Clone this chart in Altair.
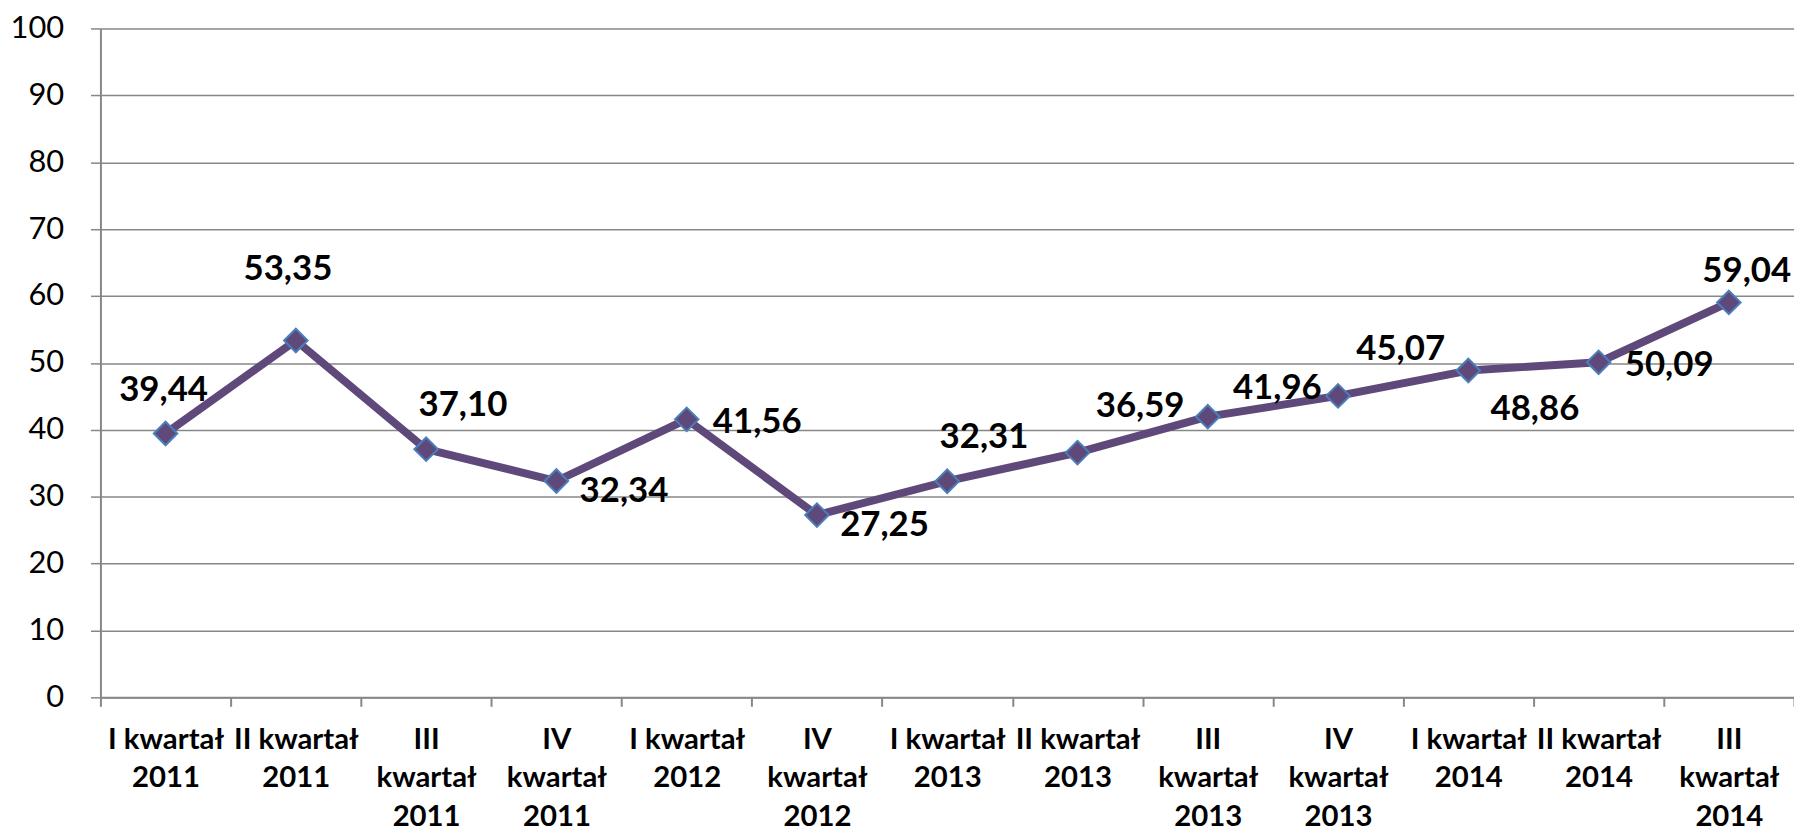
import altair as alt
import pandas as pd

categories = [
    "I kwartał 2011", "II kwartał 2011", "III kwartał 2011", "IV kwartał 2011",
    "I kwartał 2012", "IV kwartał 2012", "I kwartał 2013", "II kwartał 2013",
    "III kwartał 2013", "IV kwartał 2013", "I kwartał 2014", "II kwartał 2014",
    "III kwartał 2014",
]
values = [39.44, 53.35, 37.10, 32.34, 41.56, 27.25, 32.31, 36.59, 41.96, 45.07, 48.86, 50.09, 59.04]
# where each value label sits relative to its point
placement = ["top", "top_high", "top_right", "right_low", "right", "right_low", "top_right",
             "top_right_far", "right_up", "top_right_far", "below_right", "right", "top_near"]
y_ticks = list(range(0, 101, 10))

offsets = {
    "top": (-2, -44),
    "top_high": (-8, -72),
    "top_right": (37, -44),
    "top_right_far": (63, -47),
    "right_up": (70, -29),
    "right_low": (68, 10),
    "right": (71, 3),
    "below_right": (67, 39),
    "top_near": (18, -32),
}

df = pd.DataFrame({
    "kw": categories,
    "v": values,
    "lab": [f"{v:.2f}".replace(".", ",") for v in values],
    "pos": placement,
})

FONT = "Lato"
GRID = "#878787"
LINE = "#5F497A"

x_enc = alt.X(
    "kw:N", sort=categories, title=None, bandPosition=0.5,
    scale=alt.Scale(type="band", paddingInner=0, paddingOuter=0),
    axis=alt.Axis(
        labelAngle=0, labelFont=FONT, labelFontWeight="bold", labelFontSize=29.5,
        labelLineHeight=39, labelPadding=19, labelColor="black", labelLimit=300,
        labelOverlap=False,
        labelExpr="(indexof(datum.label, 'III ') == 0 || indexof(datum.label, 'IV ') == 0) ? split(datum.label, ' ') : [slice(datum.label, 0, -5), slice(datum.label, -4)]",
        tickBand="extent", tickSize=9, tickColor=GRID, tickWidth=2,
        domainColor=GRID, domainWidth=2, grid=False,
    ),
)
y_enc = alt.Y(
    "v:Q", title=None,
    scale=alt.Scale(domain=[0, 100], nice=False, zero=True),
    axis=alt.Axis(
        values=y_ticks, grid=True, gridColor=GRID, gridWidth=1.5,
        domainColor=GRID, domainWidth=2, tickColor=GRID, tickWidth=1.5, tickSize=10,
        labelFont=FONT, labelFontSize=31, labelColor="black", labelPadding=27,
        labelFontWeight="normal",
    ),
)

base = alt.Chart(df)
line = base.mark_line(color=LINE, strokeWidth=8, strokeJoin="round").encode(x=x_enc, y=y_enc)
points = base.mark_point(
    shape="diamond", size=560, filled=True, fill=LINE, stroke="#4A7EBB",
    strokeWidth=2, opacity=1,
).encode(x=x_enc, y=y_enc)

texts = []
for name, (dx, dy) in offsets.items():
    texts.append(
        base.transform_filter(alt.datum.pos == name).mark_text(
            font=FONT, fontSize=35, fontWeight="bold", color="black",
            align="center", baseline="middle", dx=dx, dy=dy,
        ).encode(x=x_enc, y=y_enc, text="lab:N")
    )

chart = alt.layer(line, points, *texts).properties(
    width=1704, height=673,
    autosize=alt.AutoSizeParams(type="none"),
    padding={"left": 93, "top": 18, "right": 0, "bottom": 150},
).configure_view(stroke=None)

chart.save("out.html", embed_options={"renderer": "svg", "actions": False})
